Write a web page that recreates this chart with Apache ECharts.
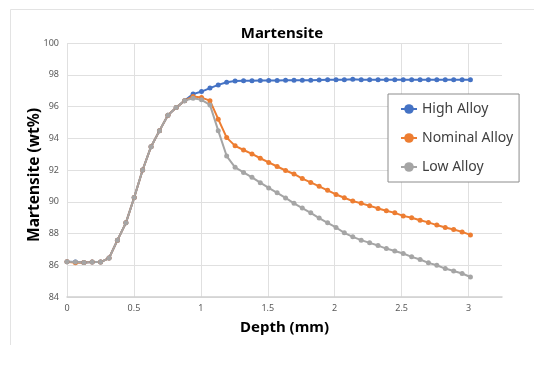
<!DOCTYPE html>
<html>
<head>
<meta charset="utf-8">
<script src="https://cdn.jsdelivr.net/npm/echarts@6/dist/echarts.min.js"></script>
<style>html,body{margin:0;padding:0;background:#fff;}#c{width:534px;height:369px;}</style>
</head>
<body>
<div id="c"></div>
<script>
var depth = [0, 0.063, 0.126, 0.188, 0.251, 0.314, 0.377, 0.44, 0.502, 0.565, 0.628, 0.691, 0.754, 0.816, 0.879, 0.942, 1.005, 1.068, 1.13, 1.193, 1.256, 1.319, 1.382, 1.444, 1.507, 1.57, 1.633, 1.696, 1.758, 1.821, 1.884, 1.947, 2.01, 2.072, 2.135, 2.198, 2.261, 2.324, 2.386, 2.449, 2.512, 2.575, 2.638, 2.7, 2.763, 2.826, 2.889, 2.952, 3.014];
var highAlloy = [86.22, 86.2, 86.18, 86.2, 86.2, 86.45, 87.58, 88.67, 90.27, 92.0, 93.47, 94.48, 95.45, 95.93, 96.37, 96.78, 96.94, 97.16, 97.36, 97.53, 97.6, 97.62, 97.62, 97.63, 97.64, 97.64, 97.65, 97.65, 97.66, 97.66, 97.67, 97.68, 97.68, 97.69, 97.72, 97.69, 97.68, 97.68, 97.68, 97.68, 97.68, 97.68, 97.68, 97.68, 97.68, 97.68, 97.68, 97.68, 97.68];
var nominalAlloy = [86.22, 86.15, 86.18, 86.2, 86.2, 86.45, 87.58, 88.67, 90.27, 92.0, 93.47, 94.48, 95.45, 95.93, 96.37, 96.63, 96.56, 96.37, 95.2, 94.04, 93.52, 93.26, 93.01, 92.74, 92.48, 92.22, 91.97, 91.75, 91.46, 91.22, 90.97, 90.72, 90.46, 90.25, 90.04, 89.9, 89.75, 89.58, 89.43, 89.3, 89.11, 88.99, 88.84, 88.7, 88.53, 88.38, 88.25, 88.1, 87.91];
var lowAlloy = [86.22, 86.2, 86.18, 86.2, 86.2, 86.45, 87.58, 88.67, 90.27, 92.0, 93.47, 94.48, 95.45, 95.93, 96.37, 96.52, 96.42, 96.1, 94.48, 92.88, 92.17, 91.85, 91.54, 91.2, 90.87, 90.56, 90.24, 89.9, 89.6, 89.3, 88.97, 88.67, 88.38, 88.04, 87.79, 87.58, 87.41, 87.24, 87.05, 86.9, 86.74, 86.53, 86.36, 86.15, 86.0, 85.79, 85.64, 85.48, 85.26];
var seriesNames = ['High Alloy', 'Nominal Alloy', 'Low Alloy'];
var colors = ['#4472C4', '#ED7D31', '#A5A5A5'];
var chartTitle = 'Martensite';
var xTitle = 'Depth (mm)';
var yTitle = 'Martensite (wt%)';

function pairs(ys) { return depth.map(function (d, i) { return [d, ys[i]]; }); }

var chart = echarts.init(document.getElementById('c'), null, { renderer: 'canvas' });
var font = 'Noto Sans, Open Sans, sans-serif';
var mk = function (name, ys, color) {
  return {
    name: name, type: 'line', data: pairs(ys),
    symbol: 'circle', symbolSize: 5, showSymbol: true,
    lineStyle: { color: color, width: 2 },
    itemStyle: { color: color },
    emphasis: { disabled: true }, animation: false
  };
};
chart.setOption({
  animation: false,
  color: colors,
  title: {
    text: chartTitle, left: 277, top: 21, textAlign: 'center',
    textStyle: { fontFamily: font, fontSize: 15, fontWeight: 'bold', color: '#000' }
  },
  graphic: [
    { type: 'line', shape: { x1: 10.5, y1: 9.5, x2: 534, y2: 9.5 }, style: { stroke: '#e3e3e3', lineWidth: 1 } },
    { type: 'line', shape: { x1: 10.5, y1: 9.5, x2: 10.5, y2: 345 }, style: { stroke: '#e3e3e3', lineWidth: 1 } },
    { type: 'text', x: 35, y: 175, rotation: Math.PI / 2,
      style: { text: yTitle, font: 'bold 15.5px ' + font, fill: '#000', align: 'center', verticalAlign: 'middle' } }
  ],
  legend: {
    data: seriesNames, orient: 'vertical', left: 388, top: 94,
    backgroundColor: '#fff', borderColor: '#8c8c8c', borderWidth: 1,
    padding: [8, 6, 8, 12], itemGap: 15, itemWidth: 16, itemHeight: 12,
    textStyle: { fontFamily: font, fontSize: 14, color: '#404040' }
  },
  grid: { left: 67, right: 32, top: 43, bottom: 72, containLabel: false },
  xAxis: {
    type: 'value', min: 0, max: 3.25, interval: 0.5,
    name: xTitle, nameLocation: 'middle', nameGap: 23,
    nameTextStyle: { fontFamily: font, fontSize: 15, fontWeight: 'bold', color: '#000' },
    axisLine: { show: true, lineStyle: { color: '#d0d0d0', width: 1.5 } },
    axisTick: { show: false },
    axisLabel: {
      fontFamily: font, fontSize: 9, color: '#595959', margin: 7, showMaxLabel: false,
      formatter: function (v) { return (Math.abs(v * 2 - Math.round(v * 2)) < 1e-6) ? String(v) : ''; }
    },
    splitLine: { show: true, showMaxLine: false, lineStyle: { color: '#e0e0e0', width: 1 } }
  },
  yAxis: {
    type: 'value', min: 84, max: 100, interval: 2,
    axisLine: { show: false }, axisTick: { show: false },
    axisLabel: { fontFamily: font, fontSize: 9, color: '#595959', margin: 8 },
    splitLine: { show: true, lineStyle: { color: '#e0e0e0', width: 1 } }
  },
  series: [
    mk(seriesNames[0], highAlloy, colors[0]),
    mk(seriesNames[1], nominalAlloy, colors[1]),
    mk(seriesNames[2], lowAlloy, colors[2])
  ]
});
</script>
</body>
</html>
